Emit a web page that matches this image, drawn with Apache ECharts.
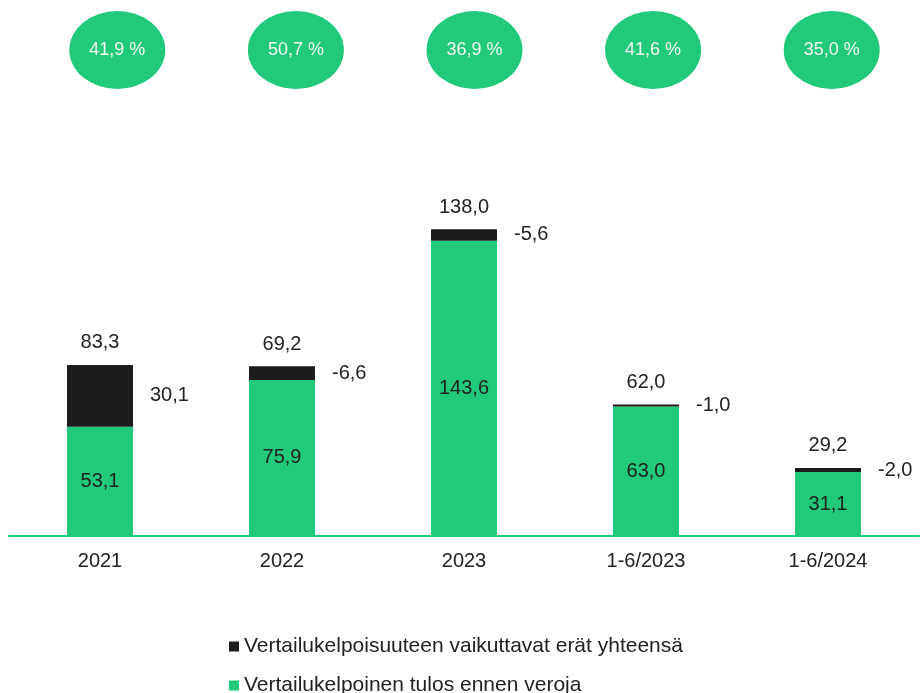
<!DOCTYPE html>
<html>
<head>
<meta charset="utf-8">
<script src="https://cdn.jsdelivr.net/npm/echarts@6/dist/echarts.min.js"></script>
<style>
  html, body { margin: 0; padding: 0; background: #fff; }
  #chartsDom { width: 922px; height: 693px; }
</style>
</head>
<body>
<div id="chartsDom"></div>
<script>
// data
var categories = ["2021", "2022", "2023", "1-6/2023", "1-6/2024"];
var comparable = [53.1, 75.9, 143.6, 63.0, 31.1];      // Vertailukelpoinen tulos ennen veroja
var adjustments = [30.1, -6.6, -5.6, -1.0, -2.0];      // Vertailukelpoisuuteen vaikuttavat erät
var totals = [83.3, 69.2, 138.0, 62.0, 29.2];          // reported result
var shares = [41.9, 50.7, 36.9, 41.6, 35.0];           // percentages in the ellipses

var green = "#21ca7b";
var black = "#1c1c1c";
var font = "Liberation Sans, Arial, sans-serif";
var nameBlack = "Vertailukelpoisuuteen vaikuttavat erät yhteensä";
var nameGreen = "Vertailukelpoinen tulos ennen veroja";

function fi(v) {
  return v.toFixed(1).replace(".", ",");
}

var myChart = echarts.init(document.getElementById("chartsDom"));

// black segment is stacked on top of the green one with its absolute size
var blackHeights = adjustments.map(function (v) { return Math.abs(v); });
var stackTops = comparable.map(function (v, i) { return v + blackHeights[i]; });

var legendText = { fontSize: 21, color: "#222", fontFamily: font };

var option = {
  animation: false,
  textStyle: { fontFamily: font },
  legend: [
    {
      left: 224, top: 631, itemWidth: 10, itemHeight: 10, icon: "rect",
      textStyle: legendText, data: [nameBlack]
    },
    {
      left: 224, top: 670, itemWidth: 10, itemHeight: 10, icon: "rect",
      textStyle: legendText, data: [nameGreen]
    }
  ],
  grid: [
    { left: 9, right: 3, top: 207, bottom: 157 },
    { left: 28, right: 1, top: 0, height: 100 }
  ],
  xAxis: [
    {
      type: "category",
      gridIndex: 0,
      data: categories,
      axisLine: { lineStyle: { color: green, width: 2 } },
      axisTick: { show: false },
      axisLabel: { color: "#222", fontSize: 20, margin: 15, fontFamily: font }
    },
    {
      type: "category",
      gridIndex: 1,
      data: categories,
      show: false
    }
  ],
  yAxis: [
    { type: "value", gridIndex: 0, min: 0, max: 160, show: false },
    { type: "value", gridIndex: 1, min: 0, max: 1, show: false }
  ],
  series: [
    {
      name: nameGreen,
      type: "bar",
      stack: "a",
      barWidth: 66,
      itemStyle: { color: green },
      label: {
        show: true,
        position: "inside",
        color: "#222",
        fontSize: 20,
        fontFamily: font,
        formatter: function (p) { return fi(comparable[p.dataIndex]); }
      },
      data: comparable
    },
    {
      name: nameBlack,
      type: "bar",
      stack: "a",
      barWidth: 66,
      itemStyle: { color: black },
      label: {
        show: true,
        position: "right",
        distance: 17,
        color: "#222",
        fontSize: 20,
        fontFamily: font,
        formatter: function (p) { return fi(adjustments[p.dataIndex]); }
      },
      data: blackHeights
    },
    {
      // totals above the stacks
      type: "scatter",
      symbolSize: 0,
      silent: true,
      itemStyle: { opacity: 1 },
      label: {
        show: true,
        position: "top",
        distance: 12,
        color: "#222",
        fontSize: 20,
        fontFamily: font,
        formatter: function (p) { return fi(totals[p.dataIndex]); }
      },
      data: stackTops
    },
    {
      // percentage ellipses
      type: "scatter",
      xAxisIndex: 1,
      yAxisIndex: 1,
      symbol: "circle",
      symbolSize: [96, 78],
      itemStyle: { color: green, opacity: 1 },
      silent: true,
      label: {
        show: true,
        position: "inside",
        color: "#f4f4f4",
        fontSize: 18,
        fontFamily: font,
        formatter: function (p) { return fi(shares[p.dataIndex]) + " %"; }
      },
      data: shares.map(function () { return 0.5; })
    }
  ]
};
option && myChart.setOption(option);
</script>
</body>
</html>
